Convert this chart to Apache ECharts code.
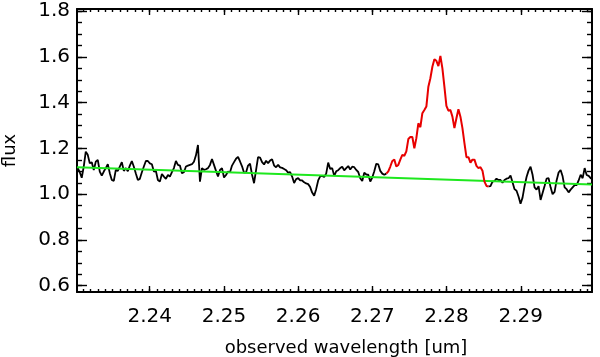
<!DOCTYPE html>
<html><head><meta charset="utf-8">
<script src="https://cdn.jsdelivr.net/npm/echarts@6/dist/echarts.min.js"></script>
<style>html,body{margin:0;padding:0;background:#fff}#c{width:600px;height:357px}</style>
</head><body><div id="c"></div>
<script>
// wavelength sampling grid of the spectrum [um]
const wlStart = 2.2303;
const wlStep = 0.00027;
// observed flux, one value per wavelength sample
const flux = [
1.114,1.096,1.072,1.121,1.186,1.172,1.135,1.140,1.106,1.142,
1.150,1.099,1.081,1.099,1.114,1.131,1.092,1.062,1.058,1.106,
1.102,1.121,1.140,1.102,1.114,1.100,1.125,1.145,1.120,1.090,
1.062,1.067,1.096,1.121,1.145,1.145,1.135,1.131,1.099,1.102,
1.062,1.055,1.088,1.077,1.067,1.084,1.077,1.096,1.114,1.145,
1.128,1.125,
1.092,1.096,1.121,1.125,1.128,1.131,1.142,1.170,1.215,1.055,
1.114,1.106,1.109,1.114,1.128,1.154,1.128,1.102,1.077,1.106,
1.114,1.073,1.084,1.099,1.096,1.125,1.140,1.155,1.163,1.143,
1.122,1.094,1.095,1.125,1.133,1.085,1.048,1.105,1.162,1.160,
1.140,1.130,1.146,1.136,1.147,1.153,1.125,1.118,1.128,1.117,
1.115,1.110,1.105,1.094,1.096,1.077,1.049,1.066,1.070,1.060,
1.060,1.052,1.047,1.044,1.031,1.007,0.993,1.022,1.060,1.078,
1.080,1.075,1.090,1.138,1.110,1.114,1.080,1.100,1.105,1.114,
1.120,1.104,1.114,1.123,1.108,1.120,1.118,1.106,1.097,1.070,
1.058,1.094,1.086,1.085,1.055,1.073,1.100,1.133,1.130,1.102,
1.090,1.085,1.090,
1.100,1.121,1.145,1.151,1.121,1.128,1.151,1.172,1.168,1.187,
1.241,1.250,1.250,1.201,1.245,1.310,1.293,1.354,1.368,1.383,
1.470,1.507,1.557,1.590,1.583,1.560,1.604,1.550,1.470,1.386,
1.365,1.368,1.339,1.289,1.332,1.371,1.339,1.289,1.223,1.162,
1.162,1.138,1.151,1.151,1.124,1.114,1.118,1.103,1.055,1.036,
1.034,
1.035,1.055,1.057,1.068,1.062,1.062,1.050,1.062,1.068,1.070,
1.082,1.052,1.022,1.015,0.990,0.958,0.985,1.035,1.075,1.103,
1.120,1.085,1.030,1.020,1.035,0.975,1.005,1.036,1.068,1.070,
1.030,1.000,1.010,1.060,1.095,1.106,1.078,1.030,1.022,1.008,
1.020,1.030,1.040,1.040,1.060,1.085,1.070,1.114,1.084,1.080,
1.070,1.065
];
// samples belonging to the emission line (drawn red)
const redFrom = 154, redTo = 205;
// continuum fit (green)
const fitWl = [2.2302, 2.2996];
const fitFlux = [1.118, 1.042];
// axes
const xRange = [2.2302, 2.2996];
const yRange = [0.5724, 1.8096];
const xTickLabels = [2.24, 2.25, 2.26, 2.27, 2.28, 2.29];
const yTickLabels = [0.6, 0.8, 1.0, 1.2, 1.4, 1.6, 1.8];
const xMinorStep = 0.001, yMinorStep = 0.05;

const wlOf = k => +(wlStart + wlStep * k).toFixed(6);
const pts = (a, b) => flux.slice(a, b + 1).map((f, j) => [wlOf(a + j), f]);
const xMinor = [], yMinor = [];
for (let v = 2.231; v < xRange[1]; v += xMinorStep) xMinor.push(+v.toFixed(4));
for (let v = 0.6; v < yRange[1]; v += yMinorStep) yMinor.push(+v.toFixed(3));

const FONT = 'DejaVu Sans';
const gridRect = {left: 77, right: 8, top: 9, bottom: 65, containLabel: false, outerBoundsMode: 'none'};
const frameLine = {show: true, lineStyle: {color: '#000', width: 2}};
function xAx(grid, pos, ticks, len, opts) {
  return Object.assign({
    type: 'value', gridIndex: grid, position: pos, min: xRange[0], max: xRange[1],
    axisLine: grid === 0 ? frameLine : {show: false},
    axisTick: {show: true, inside: true, length: len, customValues: ticks, lineStyle: {color: '#000', width: 1.4}},
    axisLabel: {show: false}, splitLine: {show: false}
  }, opts || {});
}
function yAx(grid, pos, ticks, len, opts) {
  return Object.assign({
    type: 'value', gridIndex: grid, position: pos, min: yRange[0], max: yRange[1],
    axisLine: grid === 0 ? frameLine : {show: false},
    axisTick: {show: true, inside: true, length: len, customValues: ticks, lineStyle: {color: '#000', width: 1.4}},
    axisLabel: {show: false}, splitLine: {show: false}
  }, opts || {});
}

const chart = echarts.init(document.getElementById('c'), null, {renderer: 'canvas'});
chart.setOption({
  animation: false,
  backgroundColor: '#fff',
  grid: [Object.assign({}, gridRect), Object.assign({}, gridRect)],
  xAxis: [
    xAx(0, 'bottom', xTickLabels, 6, {
      axisLabel: {show: true, customValues: xTickLabels, formatter: v => v.toFixed(2),
        fontSize: 20, fontFamily: FONT, color: '#000', margin: 15},
      name: 'observed wavelength [um]', nameLocation: 'middle', nameGap: 47,
      nameTextStyle: {fontSize: 18, fontFamily: FONT, color: '#000', padding: [0, 0, 0, 23]}
    }),
    xAx(0, 'top', xTickLabels, 6),
    xAx(1, 'bottom', xMinor, 3),
    xAx(1, 'top', xMinor, 3)
  ],
  yAxis: [
    yAx(0, 'left', yTickLabels, 10, {
      axisLabel: {show: true, customValues: yTickLabels, formatter: v => v.toFixed(1),
        fontSize: 20, fontFamily: FONT, color: '#000', margin: 7},
      name: 'flux', nameLocation: 'middle', nameGap: 58,
      nameTextStyle: {fontSize: 18, fontFamily: FONT, color: '#000'}
    }),
    yAx(0, 'right', yTickLabels, 10),
    yAx(1, 'left', yMinor, 5),
    yAx(1, 'right', yMinor, 5)
  ],
  series: [
    {type: 'line', xAxisIndex: 0, yAxisIndex: 0, data: pts(0, redFrom), showSymbol: false, symbol: 'none',
      lineStyle: {color: '#000', width: 1.8}, clip: true, z: 2},
    {type: 'line', xAxisIndex: 0, yAxisIndex: 0, data: pts(redTo, flux.length - 1), showSymbol: false, symbol: 'none',
      lineStyle: {color: '#000', width: 1.8}, clip: true, z: 2},
    {type: 'line', xAxisIndex: 0, yAxisIndex: 0, data: fitWl.map((w, k) => [w, fitFlux[k]]), showSymbol: false, symbol: 'none',
      lineStyle: {color: '#1ee81e', width: 2}, clip: true, z: 3},
    {type: 'line', xAxisIndex: 0, yAxisIndex: 0, data: pts(redFrom, redTo), showSymbol: false, symbol: 'none',
      lineStyle: {color: '#e80000', width: 2}, clip: true, z: 4}
  ]
});
</script></body></html>
